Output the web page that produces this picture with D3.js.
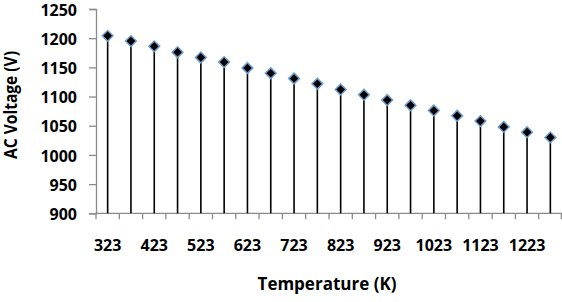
<!DOCTYPE html>
<html><head><meta charset="utf-8">
<script src="https://cdn.jsdelivr.net/npm/d3@7"></script>
<style>body{margin:0;background:#fff}svg{display:block}text{font-family:"Open Sans",sans-serif;font-weight:bold;fill:#000}</style>
</head><body><svg id="c" width="562" height="302"></svg>
<script>
const temperatures = [323,373,423,473,523,573,623,673,723,773,823,873,923,973,1023,1073,1123,1173,1223,1273];
const voltages = [1204,1195,1186,1176,1167,1159,1149,1140,1131,1122,1112,1103,1094,1085,1076,1067,1058,1048,1039,1030];
const yTicks = [900,950,1000,1050,1100,1150,1200,1250];
const xLabels = [323,423,523,623,723,823,923,1023,1123,1223];

const svg = d3.select("#c");
const L = 96, R = 562, T = 9, B = 213.3;
const x = d3.scaleBand().domain(temperatures).range([L, R]);
const y = d3.scaleLinear().domain([900,1250]).range([B, T]);
const axisColor = "#8a8a8a";

// y axis
const ya = svg.append("g").attr("transform",`translate(${L},0)`)
  .call(d3.axisLeft(y).tickValues(yTicks).tickFormat(d3.format("d")).tickSize(7).tickPadding(12));
ya.select(".domain").attr("stroke",axisColor).attr("stroke-width",1.3);
ya.selectAll(".tick line").attr("stroke",axisColor).attr("stroke-width",1.3);
ya.selectAll(".tick text").style("font-size","16px").attr("dy","0.38em");

// x axis line & ticks at band boundaries
const xg = svg.append("g");
xg.append("line").attr("x1",L).attr("x2",R).attr("y1",B).attr("y2",B).attr("stroke",axisColor).attr("stroke-width",1.3);
const bounds = temperatures.map(t => x(t)).concat([R-0.7]);
xg.selectAll("line.tk").data(bounds).enter().append("line").attr("class","tk")
  .attr("x1",d=>d).attr("x2",d=>d).attr("y1",B).attr("y2",B+6).attr("stroke",axisColor).attr("stroke-width",1.3);
xg.selectAll("text").data(xLabels).enter().append("text")
  .attr("x",d=>x(d)+x.bandwidth()/2).attr("y",251).attr("text-anchor","middle").style("font-size","16px").text(d=>d);

// stems
svg.append("g").selectAll("line").data(temperatures).enter().append("line")
  .attr("x1",(d)=>x(d)+x.bandwidth()/2).attr("x2",(d)=>x(d)+x.bandwidth()/2)
  .attr("y1",(d,i)=>y(voltages[i])).attr("y2",B).attr("stroke","#000").attr("stroke-width",1.6);

// markers
const sym = d3.symbol().type(d3.symbolSquare).size(58);
svg.append("g").selectAll("path").data(temperatures).enter().append("path")
  .attr("d", sym)
  .attr("transform",(d,i)=>`translate(${x(d)+x.bandwidth()/2},${y(voltages[i])}) rotate(45)`)
  .attr("fill","#000").attr("stroke","#6f9ccc").attr("stroke-width",1.5);

// titles
svg.append("text").attr("x",327).attr("y",290).attr("text-anchor","middle").style("font-size","17px").text("Temperature (K)");
svg.append("text").attr("transform","translate(17,105) rotate(-90)").attr("text-anchor","middle")
  .attr("textLength",108).attr("lengthAdjust","spacingAndGlyphs").style("font-size","17px").text("AC Voltage (V)");
</script></body></html>
